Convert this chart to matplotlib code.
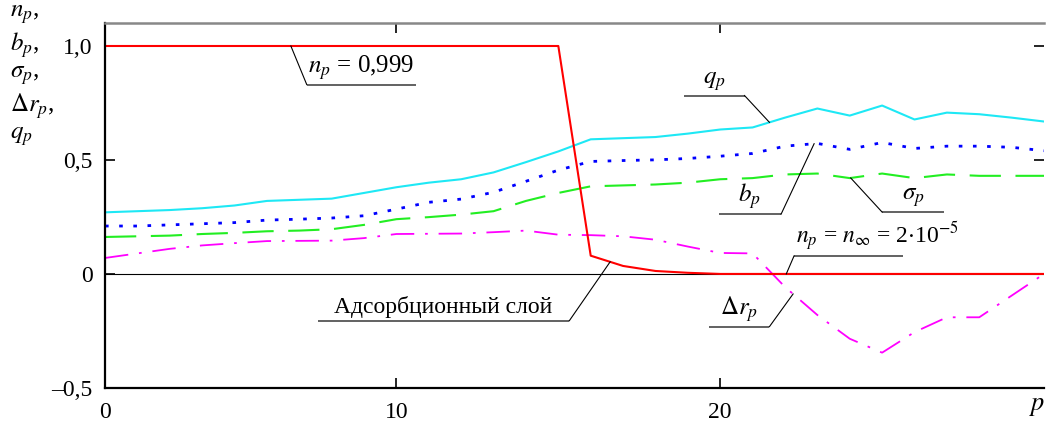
import numpy as np
import matplotlib
matplotlib.use("Agg")
import matplotlib.pyplot as plt

plt.rcParams['font.family'] = ['Liberation Serif', 'DejaVu Serif']
plt.rcParams['mathtext.fontset'] = 'stix'

# layer index p
p = np.arange(1, 31)

# n_p - red
n_p = [0.999] * 15 + [0.08, 0.035, 0.013, 0.005] + [0.00002] * 11
# q_p - cyan
q_p = [0.27, 0.275, 0.28, 0.288, 0.30, 0.32, 0.325, 0.33, 0.355, 0.38,
       0.40, 0.415, 0.445, 0.49, 0.537, 0.59, 0.595, 0.60, 0.615, 0.633,
       0.642, 0.685, 0.725, 0.694, 0.738, 0.677, 0.707, 0.70, 0.685, 0.668]
# b_p - blue dotted
b_p = [0.21, 0.21, 0.215, 0.22, 0.225, 0.236, 0.24, 0.245, 0.255, 0.284,
       0.314, 0.328, 0.358, 0.406, 0.455, 0.493, 0.497, 0.50, 0.506, 0.516,
       0.528, 0.56, 0.572, 0.546, 0.576, 0.55, 0.56, 0.56, 0.555, 0.54]
# sigma_p - green dashed
s_p = [0.162, 0.165, 0.168, 0.175, 0.18, 0.187, 0.19, 0.196, 0.215, 0.24,
       0.249, 0.26, 0.275, 0.32, 0.355, 0.384, 0.388, 0.392, 0.40, 0.415,
       0.42, 0.436, 0.44, 0.42, 0.44, 0.42, 0.436, 0.43, 0.43, 0.43]
# delta r_p - magenta dash-dot
dr_p = [0.07, 0.09, 0.11, 0.125, 0.135, 0.144, 0.145, 0.146, 0.157, 0.175,
        0.176, 0.177, 0.183, 0.19, 0.172, 0.17, 0.165, 0.15, 0.12, 0.092,
        0.09, -0.057, -0.18, -0.284, -0.345, -0.255, -0.19, -0.19, -0.095, 0.0]

fig = plt.figure(figsize=(10.48, 4.25), dpi=100)
ax = fig.add_axes([0.1002, 0.087, 0.896, 0.859])

ax.axhline(0, color='black', lw=0.8, zorder=1)
ax.plot(p, q_p, color='#1EE8F5', lw=1.5)
ax.plot(p, b_p, color='#0000FF', lw=2, linestyle=(0, (1.3, 3.8)))
ax.plot(p, s_p, color='#22EE22', lw=1.5, linestyle=(0, (15, 7)))
ax.plot(p, dr_p, color='#FF00FF', lw=1.3, linestyle=(0, (13, 6, 1.5, 6)))
ax.plot(p, n_p, color='#FF0000', lw=1.5)

ax.set_xlim(1, 30)
ax.set_ylim(-0.5, 1.1)
ax.set_xticks([1, 10, 20])
ax.set_xticklabels(['0', '10', '20'])
ax.set_yticks([-0.5, 0, 0.5, 1.0])
ax.set_yticklabels(['\u20130,5', '0', '0,5', '1,0'])
ax.tick_params(direction='in', length=7, width=1.2, labelsize=17, pad=9,
               top=True, right=True)
ax.tick_params(axis='x', pad=10)

for s in ['left', 'bottom']:
    ax.spines[s].set_linewidth(1.6)
    ax.spines[s].set_color('black')
ax.spines['top'].set_color('#888888')
ax.spines['top'].set_linewidth(1.8)
ax.spines['right'].set_visible(False)

ax.text(29.8, -0.535, '$p$', fontsize=19, ha='center', va='top', clip_on=False)

# stacked axis label at top left
for i, lab in enumerate([r'$n_p$,', r'$b_p$,', r'$\sigma_p$,', r'$\Delta r_p$,', r'$q_p$']):
    fig.text(0.01, 1 - (15 + 30.5 * i) / 425, lab, fontsize=18, ha='left', va='center')


def callout(text, x0, x1, y, tip, left_end, fs=17, ha='center', tx=None):
    ax.plot([x0, x1], [y, y], color='#555555', lw=1.3, solid_capstyle='butt')
    ex = x0 if left_end else x1
    ax.plot([ex, tip[0]], [y, tip[1]], color='black', lw=0.8)
    if tx is None:
        tx = (x0 + x1) / 2
    ax.text(tx, y + 0.012, text, fontsize=fs, ha=ha, va='bottom')


def on(series, x):
    return (x, float(np.interp(x, p, series)))


callout(r'$n_p$ = 0,999', 7.23, 10.61, 0.83, on(n_p, 6.74), True, fs=18)
callout(r'$q_p$', 18.87, 20.75, 0.782, on(q_p, 21.52), False, fs=18)
callout(r'$b_p$', 19.95, 21.88, 0.262, on(b_p, 22.9), False, fs=18)
callout(r'$\sigma_p$', 25.0, 26.9, 0.271, on(s_p, 24.03), True, fs=18)
callout(r'$n_p$ = $n_\infty$ = 2$\cdot$10$^{-5}$', 22.28, 25.66, 0.079,
        on(n_p, 22.04), True, fs=17, ha='left', tx=22.33)
callout(r'$\Delta r_p$', 19.64, 21.52, -0.231, on(dr_p, 22.25), False, fs=18)
callout('Адсорбционный слой', 7.57, 15.34, -0.205, on(n_p, 16.6), False, fs=17)

fig.savefig('out.png', dpi=100)
